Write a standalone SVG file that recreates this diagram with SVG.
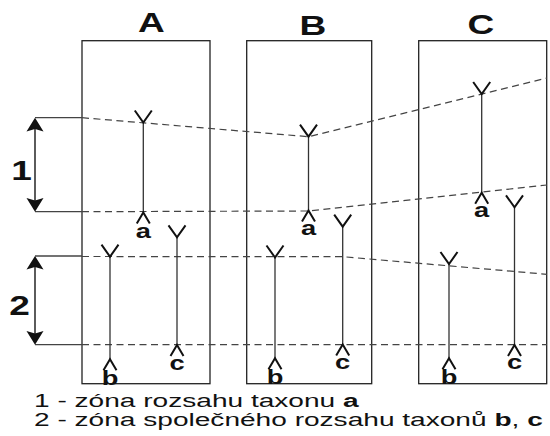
<svg xmlns="http://www.w3.org/2000/svg" xmlns:xlink="http://www.w3.org/1999/xlink" width="550" height="436" viewBox="0 0 550 436">
<style>
.box{fill:none;stroke:#222;stroke-width:1.3}
.dash{fill:none;stroke:#444;stroke-width:1.2;stroke-dasharray:7,4.5}
.tick{fill:none;stroke:#444;stroke-width:1.3}
.shaft{fill:none;stroke:#333;stroke-width:1.6}
.head{fill:#111;stroke:none}
.rng{fill:none;stroke:#333;stroke-width:1.3}
.chev{fill:none;stroke:#111;stroke-width:2}
.t{font-family:"Liberation Sans",Arial,sans-serif;fill:#111}
.big{font-size:28.5px;font-weight:bold;text-anchor:middle}
.lab{font-size:21px;font-weight:bold;text-anchor:middle}
.leg{font-size:18px}
</style>
<defs>
<path id="v" d="M-8.5,-12 L0,0 L8.5,-12"/>
<path id="up" d="M-6.5,11 L0,0 L6.5,11"/>
</defs>
<rect fill="#fff" x="0" y="0" width="550" height="436"/>

<g id="titles">
<text class="t big" transform="translate(151.5,32) scale(1.3,1)">A</text>
<text class="t big" transform="translate(313,35) scale(1.3,1)">B</text>
<text class="t big" transform="translate(481,33.5) scale(1.3,1)">C</text>
</g>

<g id="panel-A"><rect class="box" x="82" y="40.7" width="128" height="343"/></g>
<g id="panel-B"><rect class="box" x="246.7" y="40.7" width="125" height="343"/></g>
<g id="panel-C"><rect class="box" x="418.7" y="40.7" width="128" height="343"/></g>

<g id="connectors">
<polyline class="dash" points="82,117.7 308.5,136.7 547,78"/>
<polyline class="dash" points="82,211.7 308.5,211 547,185"/>
<polyline class="dash" points="82,256.5 342.7,256.7 547,274.3"/>
<polyline class="dash" points="82,344.7 547,344.7"/>
</g>

<g id="zone-1">
<line class="tick" x1="35" y1="117.7" x2="82" y2="117.7"/>
<line class="tick" x1="35" y1="211.7" x2="82" y2="211.7"/>
<line class="shaft" x1="35" y1="128" x2="35" y2="201"/>
<polygon class="head" points="35,117.7 26.5,131.5 35,129 43.5,131.5"/>
<polygon class="head" points="35,211.7 26.5,198 35,200.5 43.5,198"/>
<text class="t big" transform="translate(21.5,180) scale(1.3,1)">1</text>
</g>

<g id="zone-2">
<line class="tick" x1="35" y1="256" x2="82" y2="256"/>
<line class="tick" x1="35" y1="344.7" x2="82" y2="344.7"/>
<line class="shaft" x1="35" y1="266" x2="35" y2="334"/>
<polygon class="head" points="35,256 26.5,269.5 35,267 43.5,269.5"/>
<polygon class="head" points="35,344.7 26.5,331 35,333.5 43.5,331"/>
<text class="t big" transform="translate(19.5,315) scale(1.3,1)">2</text>
</g>

<g id="A-a">
<line class="rng" x1="143.3" y1="122.5" x2="143.3" y2="212.5"/>
<use xlink:href="#v" class="chev" x="143.3" y="122.5"/>
<use xlink:href="#up" class="chev" x="143.3" y="212.5"/>
<text class="t lab" transform="translate(143.3,238) scale(1.3,1)">a</text>
</g>
<g id="A-b">
<line class="rng" x1="110" y1="256.7" x2="110" y2="359.3"/>
<use xlink:href="#v" class="chev" x="110" y="256.7"/>
<use xlink:href="#up" class="chev" x="110" y="359.3"/>
<text class="t lab" transform="translate(110,385) scale(1.3,1)">b</text>
</g>
<g id="A-c">
<line class="rng" x1="177" y1="237.3" x2="177" y2="345"/>
<use xlink:href="#v" class="chev" x="177" y="237.3"/>
<use xlink:href="#up" class="chev" x="177" y="345"/>
<text class="t lab" transform="translate(177,370) scale(1.3,1)">c</text>
</g>

<g id="B-a">
<line class="rng" x1="308.5" y1="136.7" x2="308.5" y2="210.5"/>
<use xlink:href="#v" class="chev" x="308.5" y="136.7"/>
<use xlink:href="#up" class="chev" x="308.5" y="210.5"/>
<text class="t lab" transform="translate(308.5,235) scale(1.3,1)">a</text>
</g>
<g id="B-b">
<line class="rng" x1="275" y1="257.5" x2="275" y2="358.3"/>
<use xlink:href="#v" class="chev" x="275" y="257.5"/>
<use xlink:href="#up" class="chev" x="275" y="358.3"/>
<text class="t lab" transform="translate(275,383.5) scale(1.3,1)">b</text>
</g>
<g id="B-c">
<line class="rng" x1="342.7" y1="226.7" x2="342.7" y2="344.5"/>
<use xlink:href="#v" class="chev" x="342.7" y="226.7"/>
<use xlink:href="#up" class="chev" x="342.7" y="344.5"/>
<text class="t lab" transform="translate(342.7,368.5) scale(1.3,1)">c</text>
</g>

<g id="C-a">
<line class="rng" x1="481.7" y1="94" x2="481.7" y2="192.7"/>
<use xlink:href="#v" class="chev" x="481.7" y="94"/>
<use xlink:href="#up" class="chev" x="481.7" y="192.7"/>
<text class="t lab" transform="translate(481.7,216.7) scale(1.3,1)">a</text>
</g>
<g id="C-b">
<line class="rng" x1="449" y1="264" x2="449" y2="358.3"/>
<use xlink:href="#v" class="chev" x="449" y="264"/>
<use xlink:href="#up" class="chev" x="449" y="358.3"/>
<text class="t lab" transform="translate(449,383.5) scale(1.3,1)">b</text>
</g>
<g id="C-c">
<line class="rng" x1="514.5" y1="207.3" x2="514.5" y2="345"/>
<use xlink:href="#v" class="chev" x="514.5" y="207.3"/>
<use xlink:href="#up" class="chev" x="514.5" y="345"/>
<text class="t lab" transform="translate(514.5,369) scale(1.3,1)">c</text>
</g>

<g id="legend">
<text class="t leg" transform="translate(34,406.5) scale(1.56,1)">1 - zóna rozsahu taxonu <tspan font-weight="bold">a</tspan></text>
<text class="t leg" transform="translate(34,425.5) scale(1.56,1)">2 - zóna společného rozsahu taxonů <tspan font-weight="bold">b</tspan>, <tspan font-weight="bold">c</tspan></text>
</g>
</svg>
